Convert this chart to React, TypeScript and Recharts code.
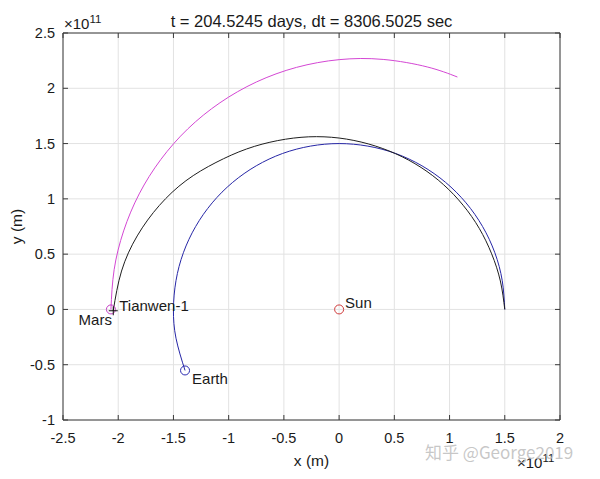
import React from 'react'
import {
  CartesianGrid,
  ComposedChart,
  Line,
  Scatter,
  XAxis,
  YAxis,
} from 'recharts'

// positions in units of 1e11 m
const xTicks = [-2.5, -2, -1.5, -1, -0.5, 0, 0.5, 1, 1.5, 2]
const yTicks = [-1, -0.5, 0, 0.5, 1, 1.5, 2, 2.5]

const marsPath = [
  { x: -2.066, y: 0 },
  { x: -2.037, y: 0.359 },
  { x: -1.951, y: 0.71 },
  { x: -1.81, y: 1.045 },
  { x: -1.615, y: 1.355 },
  { x: -1.37, y: 1.633 },
  { x: -1.079, y: 1.869 },
  { x: -0.749, y: 2.057 },
  { x: -0.386, y: 2.189 },
  { x: 0, y: 2.259 },
  { x: 0.399, y: 2.261 },
  { x: 0.798, y: 2.193 },
  { x: 1.071, y: 2.102 },
]

const earthPath = [
  { x: 1.5, y: 0 },
  { x: 1.477, y: 0.26 },
  { x: 1.41, y: 0.513 },
  { x: 1.299, y: 0.75 },
  { x: 1.149, y: 0.964 },
  { x: 0.964, y: 1.149 },
  { x: 0.75, y: 1.299 },
  { x: 0.513, y: 1.41 },
  { x: 0.26, y: 1.477 },
  { x: 0, y: 1.5 },
  { x: -0.26, y: 1.477 },
  { x: -0.513, y: 1.41 },
  { x: -0.75, y: 1.299 },
  { x: -0.964, y: 1.149 },
  { x: -1.149, y: 0.964 },
  { x: -1.299, y: 0.75 },
  { x: -1.41, y: 0.513 },
  { x: -1.477, y: 0.26 },
  { x: -1.5, y: 0 },
  { x: -1.477, y: -0.26 },
  { x: -1.395, y: -0.552 },
]

const probePath = [
  { x: 1.5, y: 0 },
  { x: 1.46, y: 0.257 },
  { x: 1.381, y: 0.503 },
  { x: 1.269, y: 0.733 },
  { x: 1.123, y: 0.942 },
  { x: 0.946, y: 1.128 },
  { x: 0.742, y: 1.284 },
  { x: 0.512, y: 1.408 },
  { x: 0.264, y: 1.497 },
  { x: 0, y: 1.55 },
  { x: -0.275, y: 1.561 },
  { x: -0.556, y: 1.527 },
  { x: -0.838, y: 1.451 },
  { x: -1.115, y: 1.329 },
  { x: -1.387, y: 1.164 },
  { x: -1.628, y: 0.94 },
  { x: -1.828, y: 0.665 },
  { x: -1.97, y: 0.347 },
  { x: -2.045, y: -0.012 },
]

const sunPos = [{ x: 0, y: 0 }]
const earthPos = [{ x: -1.395, y: -0.552 }]
const marsPos = [{ x: -2.066, y: 0 }]
const probePos = [{ x: -2.045, y: -0.012 }]

const font = '"Liberation Sans", Arial, Helvetica, sans-serif'
const axisColor = '#3a3a3a'
const textColor = '#1a1a1a'

const noTick = () => <g />

function circleMarker(color: string, label: string, dx: number, dy: number, anchor: 'start' | 'end') {
  return (props: any) => {
    const { cx, cy } = props
    return (
      <g>
        <circle cx={cx} cy={cy} r={4.5} fill="none" stroke={color} strokeWidth={1} />
        <text x={cx + dx} y={cy + dy} fontSize={15} fontFamily={font} fill={textColor} textAnchor={anchor}>
          {label}
        </text>
      </g>
    )
  }
}

function plusMarker(props: any) {
  const { cx, cy } = props
  return (
    <g>
      <line x1={cx - 4.5} x2={cx + 4.5} y1={cy} y2={cy} stroke="#111" strokeWidth={1} />
      <line x1={cx} x2={cx} y1={cy - 4.5} y2={cy + 4.5} stroke="#111" strokeWidth={1} />
      <text x={cx + 6} y={cy} fontSize={15} fontFamily={font} fill={textColor}>
        Tianwen-1
      </text>
    </g>
  )
}

export default function App(): React.ReactElement {
  const tickStyle = { fontSize: 14.5, fontFamily: font, fill: textColor }

  return (
    <div style={{ position: 'absolute', left: 0, top: 0, background: '#fff' }}>
      <ComposedChart width={600} height={479} margin={{ top: 33, right: 40, bottom: 0, left: 0 }}>
        <CartesianGrid stroke="#e2e2e2" strokeWidth={1} />
        <XAxis
          type="number"
          dataKey="x"
          domain={[-2.5, 2]}
          ticks={xTicks}
          allowDataOverflow
          height={59}
          tickLine={false}
          tickSize={0}
          tickMargin={13}
          axisLine={{ stroke: axisColor }}
          tick={tickStyle}
        />
        <XAxis
          xAxisId="bottomTicks"
          type="number"
          dataKey="x"
          domain={[-2.5, 2]}
          ticks={xTicks}
          allowDataOverflow
          mirror
          tick={noTick}
          tickSize={5}
          axisLine={false}
          tickLine={{ stroke: axisColor }}
        />
        <XAxis
          xAxisId="top"
          orientation="top"
          type="number"
          dataKey="x"
          domain={[-2.5, 2]}
          ticks={xTicks}
          allowDataOverflow
          mirror
          tick={noTick}
          tickSize={5}
          axisLine={{ stroke: axisColor }}
          tickLine={{ stroke: axisColor }}
        />
        <YAxis
          type="number"
          dataKey="y"
          domain={[-1, 2.5]}
          ticks={yTicks}
          allowDataOverflow
          width={63}
          tickLine={false}
          tickSize={0}
          tickMargin={8}
          axisLine={{ stroke: axisColor }}
          tick={tickStyle}
        />
        <YAxis
          yAxisId="leftTicks"
          type="number"
          domain={[-1, 2.5]}
          ticks={yTicks}
          allowDataOverflow
          mirror
          tick={noTick}
          tickSize={5}
          axisLine={false}
          tickLine={{ stroke: axisColor }}
        />
        <YAxis
          yAxisId="right"
          orientation="right"
          type="number"
          domain={[-1, 2.5]}
          ticks={yTicks}
          allowDataOverflow
          mirror
          tick={noTick}
          tickSize={5}
          axisLine={{ stroke: axisColor }}
          tickLine={{ stroke: axisColor }}
        />
        <Line data={earthPath} dataKey="y" type="natural" stroke="#2626a6" strokeWidth={1} dot={false} isAnimationActive={false} />
        <Line data={marsPath} dataKey="y" type="natural" stroke="#d447d4" strokeWidth={1} dot={false} isAnimationActive={false} />
        <Line data={probePath} dataKey="y" type="natural" stroke="#1e1e1e" strokeWidth={1} dot={false} isAnimationActive={false} />
        <Scatter data={sunPos} dataKey="y" shape={circleMarker('#d03a3a', 'Sun', 6, -1.5, 'start')} isAnimationActive={false} />
        <Scatter data={earthPos} dataKey="y" shape={circleMarker('#2a2ab0', 'Earth', 7, 14, 'start')} isAnimationActive={false} />
        <Scatter data={marsPos} dataKey="y" shape={circleMarker('#c43cc4', 'Mars', 1, 16, 'end')} isAnimationActive={false} />
        <Scatter data={probePos} dataKey="y" shape={plusMarker} isAnimationActive={false} />

        <text x={311.5} y={27} textAnchor="middle" fontSize={16.5} fontFamily={font} fill={textColor}>
          t = 204.5245 days, dt = 8306.5025 sec
        </text>
        <text x={311.5} y={466} textAnchor="middle" fontSize={15.5} fontFamily={font} fill={textColor}>
          x (m)
        </text>
        <text
          x={22}
          y={226.5}
          textAnchor="middle"
          fontSize={15.5}
          fontFamily={font}
          fill={textColor}
          transform="rotate(-90 22 226.5)"
        >
          y (m)
        </text>
        <text x={64} y={29} fontSize={15} fontFamily={font} fill={textColor}>
          ×10
          <tspan dy={-6} fontSize={11.5}>11</tspan>
        </text>
        <text x={517} y={468} fontSize={15} fontFamily={font} fill={textColor}>
          ×10
          <tspan dy={-6} fontSize={11.5}>11</tspan>
        </text>
        <text
          x={425}
          y={459}
          fontSize={17}
          fontFamily={'"Noto Sans CJK SC", "Liberation Sans", sans-serif'}
          fill="#bdbdbd"
          fillOpacity={0.85}
        >
          知乎 @George2019
        </text>
      </ComposedChart>
    </div>
  )
}
